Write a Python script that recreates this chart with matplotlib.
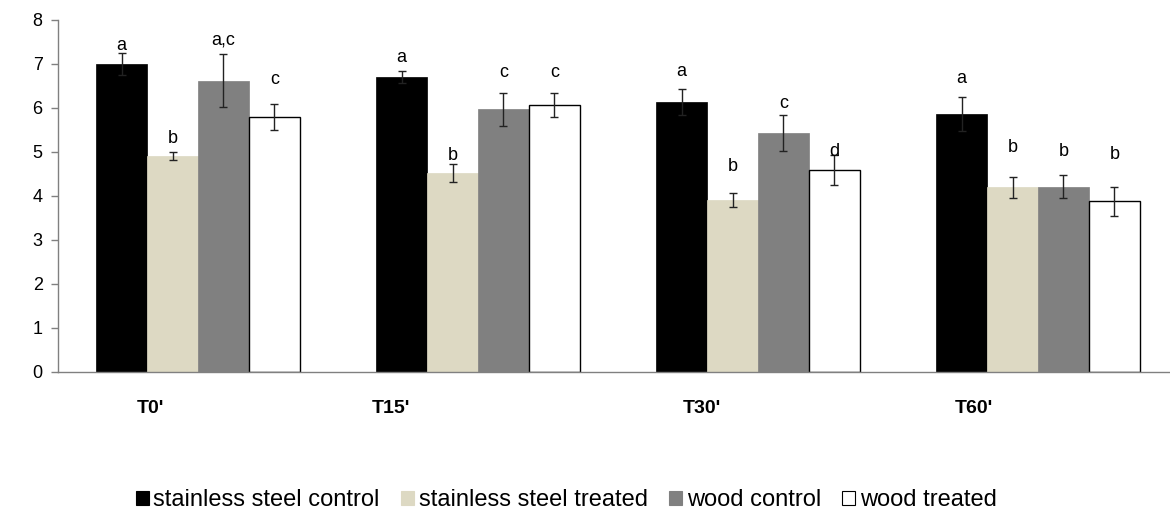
import matplotlib
matplotlib.use("Agg")
import matplotlib.pyplot as plt
import numpy as np
from matplotlib.patches import Patch

plt.rcParams['font.family'] = ['Liberation Sans', 'DejaVu Sans']

categories = ["T0'", "T15'", "T30'", "T60'"]
series_names = ["stainless steel control", "stainless steel treated", "wood control", "wood treated"]

ss_control = [7.00, 6.71, 6.13, 5.86]
ss_treated = [4.91, 4.52, 3.91, 4.20]
wood_control = [6.62, 5.97, 5.43, 4.21]
wood_treated = [5.80, 6.06, 4.59, 3.88]

ss_control_err = [0.25, 0.14, 0.30, 0.39]
ss_treated_err = [0.10, 0.20, 0.16, 0.24]
wood_control_err = [0.60, 0.37, 0.40, 0.26]
wood_treated_err = [0.30, 0.27, 0.34, 0.33]

ss_control_letters = ["a", "a", "a", "a"]
ss_treated_letters = ["b", "b", "b", "b"]
wood_control_letters = ["a,c", "c", "c", "b"]
wood_treated_letters = ["c", "c", "d", "b"]

ss_control_letter_y = [7.43, 7.14, 6.82, 6.66]
ss_treated_letter_y = [5.30, 4.93, 4.66, 5.11]
wood_control_letter_y = [7.55, 6.80, 6.11, 5.02]
wood_treated_letter_y = [6.64, 6.80, 5.02, 4.95]

values = [ss_control, ss_treated, wood_control, wood_treated]
errors = [ss_control_err, ss_treated_err, wood_control_err, wood_treated_err]
letters = [ss_control_letters, ss_treated_letters, wood_control_letters, wood_treated_letters]
letter_y = [ss_control_letter_y, ss_treated_letter_y, wood_control_letter_y, wood_treated_letter_y]

colors = ["#000000", "#DDD9C3", "#808080", "#FFFFFF"]
edges = ["#000000", "#DDD9C3", "#808080", "#000000"]

# label x offsets (category units) for the hand-placed category labels
label_offsets = [-0.17, -0.31, -0.20, -0.23]

fig = plt.figure(figsize=(11.7, 5.13), dpi=100)
ax = fig.add_axes([58/1170, 1-372/513, 1120/1170, 352/513])

x = np.arange(len(categories))
w = 0.182
for j in range(4):
    xpos = x + (j - 1.5) * w
    ax.bar(xpos, values[j], width=w, color=colors[j], edgecolor=edges[j],
           linewidth=1.0 if j == 3 else 0.5, zorder=2)
    ax.errorbar(xpos, values[j], yerr=errors[j], fmt='none', ecolor='#222222',
                elinewidth=1.0, capsize=3, capthick=1.0, zorder=3)
    for i in range(len(categories)):
        ax.text(xpos[i], letter_y[j][i], letters[j][i], ha='center', va='center',
                fontsize=13, color='black', zorder=4)

ax.set_xlim(-0.5, 3.5)
ax.set_ylim(0, 8)
ax.set_yticks(range(0, 9))
ax.tick_params(axis='y', labelsize=13, length=5, width=1, color='#808080', pad=6)
ax.set_xticks([])
for s in ['top', 'right']:
    ax.spines[s].set_visible(False)
ax.spines['left'].set_color('#808080')
ax.spines['bottom'].set_color('#808080')
ax.spines['left'].set_linewidth(1)
ax.spines['bottom'].set_linewidth(1)

for i, c in enumerate(categories):
    ax.text(x[i] + label_offsets[i], -0.83, c, ha='center', va='center',
            fontsize=14, fontweight='bold', transform=ax.transData)

handles = [Patch(facecolor=colors[j], edgecolor='#000000' if j == 3 else colors[j], linewidth=0.8)
           for j in range(4)]
fig.legend(handles, series_names, loc='center', bbox_to_anchor=(0.484, 1-500/513),
           ncol=4, frameon=False, fontsize=17, handlelength=0.55, handleheight=0.55,
           handletextpad=0.2, columnspacing=0.9)

fig.savefig("out.png", dpi=100)
